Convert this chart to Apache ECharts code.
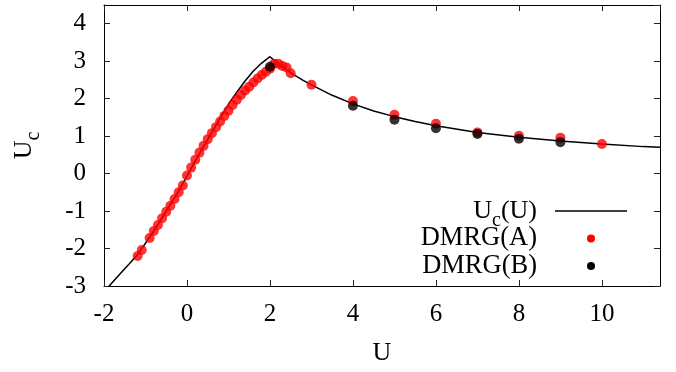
<!DOCTYPE html>
<html>
<head>
<meta charset="utf-8">
<script src="https://cdn.jsdelivr.net/npm/echarts@6/dist/echarts.min.js"></script>
<style>
html,body{margin:0;padding:0;background:#fff;}
#chart{width:676px;height:372px;}
</style>
</head>
<body>
<div id="chart"></div>
<script>
// ---- data ----
const curveU  = [-2.0, -1.875, -1.6, -1.4, -1.2, -1.0, -0.8, -0.6, -0.4, -0.2, 0.0, 0.2, 0.4, 0.6, 0.8, 1.0, 1.2, 1.4, 1.6, 1.8, 2.0, 2.2, 2.4, 2.6, 2.8, 3.0, 3.5, 4.0, 4.5, 5.0, 5.5, 6.0, 7.0, 8.0, 9.0, 10.0, 11.0, 11.4];
const curveUc = [-3.2, -3.0, -2.66, -2.42, -2.17, -1.86, -1.53, -1.18, -0.82, -0.46, -0.07, 0.33, 0.72, 1.10, 1.49, 1.85, 2.17, 2.47, 2.74, 2.95, 3.12, 2.93, 2.77, 2.62, 2.49, 2.37, 2.09, 1.86, 1.67, 1.52, 1.39, 1.28, 1.10, 0.97, 0.87, 0.79, 0.72, 0.70];

const dmrgA_U  = [-1.19, -1.09, -0.9, -0.8, -0.7, -0.6, -0.5, -0.4, -0.3, -0.2, -0.1, 0.0, 0.1, 0.2, 0.3, 0.4, 0.5, 0.6, 0.7, 0.8, 0.9, 1.0, 1.1, 1.2, 1.3, 1.4, 1.5, 1.6, 1.7, 1.8, 1.9, 2.0, 2.1, 2.2, 2.3, 2.4, 2.5, 3.0, 4.0, 5.0, 6.0, 7.0, 8.0, 9.0, 10.0];
const dmrgA_Uc = [-2.2, -2.04, -1.72, -1.53, -1.37, -1.19, -1.02, -0.86, -0.68, -0.50, -0.32, -0.05, 0.16, 0.37, 0.56, 0.74, 0.92, 1.08, 1.24, 1.39, 1.54, 1.68, 1.83, 1.97, 2.10, 2.22, 2.32, 2.43, 2.54, 2.63, 2.72, 2.80, 2.93, 2.93, 2.87, 2.83, 2.68, 2.37, 1.94, 1.57, 1.33, 1.10, 1.01, 0.96, 0.79];

const dmrgB_U  = [2.0, 4.0, 5.0, 6.0, 7.0, 8.0, 9.0];
const dmrgB_Uc = [2.85, 1.81, 1.44, 1.21, 1.06, 0.93, 0.84];

const xTickLabels = [-2, 0, 2, 4, 6, 8, 10];
const yTickLabels = [-3, -2, -1, 0, 1, 2, 3, 4];

const FONT = 'Liberation Serif';
const zip = (a, b) => a.map((v, i) => [v, b[i]]);

const chart = echarts.init(document.getElementById('chart'), null, {renderer: 'canvas'});

const richSub = {
  a: {fontFamily: FONT, fontSize: 26, color: '#000'},
  b: {fontFamily: FONT, fontSize: 20, color: '#000', verticalAlign: 'bottom', padding: [19, 0, 0, 0]}
};

const axisCommonX = {
  type: 'value', min: -2, max: 11.4, interval: 2,
  axisLine: {show: true, onZero: false, lineStyle: {color: '#000', width: 1}},
  axisTick: {show: true, inside: true, length: 6, lineStyle: {color: '#222', width: 1}},
  splitLine: {show: false}
};
const axisCommonY = {
  type: 'value', min: -3, max: 4.5, interval: 1,
  axisLine: {show: true, onZero: false, lineStyle: {color: '#000', width: 1}},
  axisTick: {show: true, inside: true, length: 6, lineStyle: {color: '#222', width: 1}},
  splitLine: {show: false}
};

const option = {
  animation: false,
  backgroundColor: '#fff',
  grid: {left: 104, right: 16, top: 5, bottom: 86, containLabel: false},
  xAxis: [
    Object.assign({}, axisCommonX, {
      position: 'bottom',
      name: 'U', nameLocation: 'middle', nameGap: 54,
      nameTextStyle: {fontFamily: FONT, fontSize: 26, color: '#000'},
      axisLabel: {
        show: true, margin: 16, color: '#000', fontFamily: FONT, fontSize: 25,
        showMaxLabel: false,
        formatter: v => xTickLabels.includes(Math.round(v * 1000) / 1000) ? String(v) : ''
      }
    }),
    Object.assign({}, axisCommonX, {position: 'top', axisLabel: {show: false}})
  ],
  yAxis: [
    Object.assign({}, axisCommonY, {
      position: 'left',
      name: '{a|U}{b|c}', nameLocation: 'middle', nameGap: 60, nameRotate: 90,
      nameTextStyle: {fontFamily: FONT, fontSize: 26, color: '#000', rich: richSub},
      axisLabel: {
        show: true, margin: 18, color: '#000', fontFamily: FONT, fontSize: 25,
        showMaxLabel: false, padding: [4, 0, 0, 0],
        formatter: v => yTickLabels.includes(Math.round(v * 1000) / 1000) ? String(v) : ''
      }
    }),
    Object.assign({}, axisCommonY, {position: 'right', axisLabel: {show: false}})
  ],
  series: [
    {
      name: 'Uc(U)', type: 'line', xAxisIndex: 0, yAxisIndex: 0,
      data: zip(curveU, curveUc), showSymbol: false, symbol: 'none',
      lineStyle: {color: '#000', width: 1.5}, clip: true, z: 2
    },
    {
      name: 'DMRG(A)', type: 'scatter', xAxisIndex: 0, yAxisIndex: 0,
      data: zip(dmrgA_U, dmrgA_Uc), symbol: 'circle', symbolSize: 10,
      itemStyle: {color: '#ff0000'}, z: 3
    },
    {
      name: 'DMRG(B)', type: 'scatter', xAxisIndex: 0, yAxisIndex: 0,
      data: zip(dmrgB_U, dmrgB_Uc), symbol: 'circle', symbolSize: 10,
      itemStyle: {color: '#000000'}, z: 4
    }
  ],
  graphic: [
    {type: 'text', x: 537, y: 211, z: 10,
      style: {text: '{a|U}{b|c}{a|(U)}', rich: richSub, align: 'right', verticalAlign: 'middle', fill: '#000'}},
    {type: 'line', z: 10, shape: {x1: 555, y1: 211, x2: 627, y2: 211}, style: {stroke: '#000', lineWidth: 1.5}},
    {type: 'text', x: 537, y: 238.5, z: 10,
      style: {text: 'DMRG(A)', font: '26.5px "Liberation Serif"', align: 'right', verticalAlign: 'middle', fill: '#000'}},
    {type: 'circle', z: 10, shape: {cx: 591, cy: 238.5, r: 4}, style: {fill: '#ff0000'}},
    {type: 'text', x: 537, y: 266, z: 10,
      style: {text: 'DMRG(B)', font: '26.5px "Liberation Serif"', align: 'right', verticalAlign: 'middle', fill: '#000'}},
    {type: 'circle', z: 10, shape: {cx: 591, cy: 266, r: 4}, style: {fill: '#000'}}
  ]
};
chart.setOption(option);
</script>
</body>
</html>
